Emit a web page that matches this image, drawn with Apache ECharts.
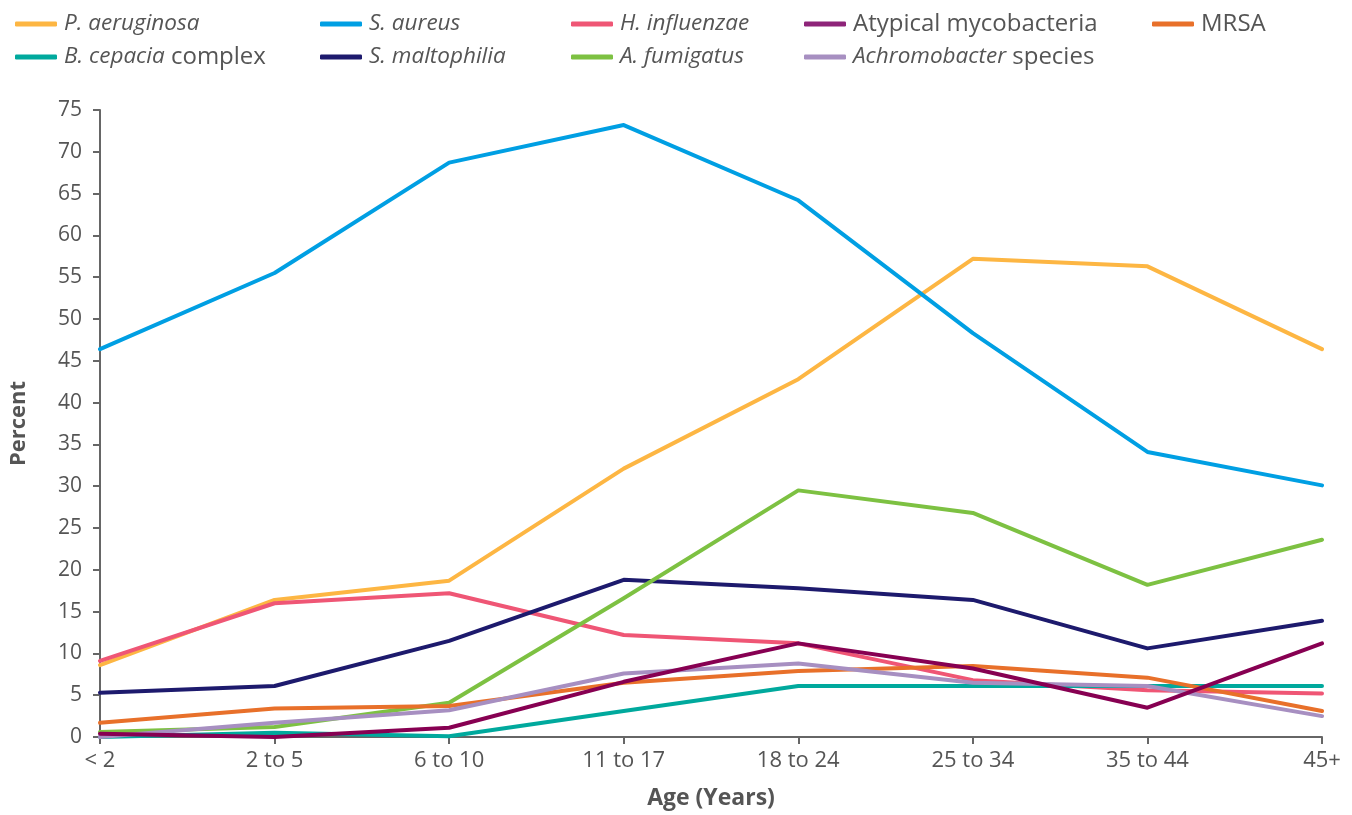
<!DOCTYPE html>
<html>
<head>
<meta charset="utf-8">
<script src="https://cdn.jsdelivr.net/npm/echarts@6/dist/echarts.min.js"></script>
<style>
  html, body { margin: 0; padding: 0; background: #fff; }
  #chart { width: 1352px; height: 815px; }
</style>
</head>
<body>
<div id="chart"></div>
<script>
// age groups on the x axis
var ageGroups = ['< 2', '2 to 5', '6 to 10', '11 to 17', '18 to 24', '25 to 34', '35 to 44', '45+'];

// percent of patients per organism
var pAeruginosa    = [8.6, 16.4, 18.7, 32.1, 42.8, 57.2, 56.3, 46.4];
var sAureus        = [46.4, 55.5, 68.7, 73.2, 64.2, 48.3, 34.1, 30.1];
var hInfluenzae    = [9.1, 16.0, 17.2, 12.2, 11.2, 6.8, 5.6, 5.2];
var atypicalMyco   = [0.4, 0.0, 1.1, 6.6, 11.2, 8.2, 3.5, 11.2];
var mrsa           = [1.7, 3.4, 3.7, 6.5, 7.9, 8.5, 7.1, 3.1];
var bCepacia       = [0.0, 0.5, 0.1, 3.1, 6.1, 6.1, 6.1, 6.1];
var sMaltophilia   = [5.3, 6.1, 11.5, 18.8, 17.8, 16.4, 10.6, 13.9];
var aFumigatus     = [0.6, 1.2, 4.1, 16.6, 29.5, 26.8, 18.2, 23.6];
var achromobacter  = [0.0, 1.7, 3.2, 7.6, 8.8, 6.5, 6.1, 2.5];

// y axis ticks
var yMin = 0, yMax = 75, yStep = 5;

// legend text pieces: [text, italic?]
var legendParts = {
  'P. aeruginosa': [['P. aeruginosa', true]],
  'S. aureus': [['S. aureus', true]],
  'H. influenzae': [['H. influenzae', true]],
  'Atypical mycobacteria': [['Atypical mycobacteria', false]],
  'MRSA': [['MRSA', false]],
  'B. cepacia complex': [['B. cepacia', true], [' complex', false]],
  'S. maltophilia': [['S. maltophilia', true]],
  'A. fumigatus': [['A. fumigatus', true]],
  'Achromobacter species': [['Achromobacter', true], [' species', false]]
};

var textColor = '#555555';
var font = 'Open Sans';

var chart = echarts.init(document.getElementById('chart'));

function fmtLegend(name) {
  var parts = legendParts[name];
  return parts.map(function (p, i) {
    var key = (p[1] ? 'i' : 'n') + (i === 0 ? '0' : '');
    return '{' + key + '|' + p[0] + '}';
  }).join('');
}

var richStyles = {
  i0: { fontStyle: 'italic', fontSize: 22.5, color: textColor, fontFamily: font, padding: [0, 0, 0, 2] },
  n0: { fontStyle: 'normal', fontSize: 24, color: textColor, fontFamily: font, padding: [0, 0, 0, 2] },
  i: { fontStyle: 'italic', fontSize: 22.5, color: textColor, fontFamily: font },
  n: { fontStyle: 'normal', fontSize: 24, color: textColor, fontFamily: font }
};

function makeLegend(left, names) {
  return {
    orient: 'vertical',
    left: left,
    top: 6,
    itemGap: 7,
    itemWidth: 42,
    itemHeight: 5,
    icon: 'roundRect',
    data: names,
    formatter: fmtLegend,
    textStyle: { fontSize: 22, lineHeight: 26, color: textColor, fontFamily: font, rich: richStyles }
  };
}

function line(name, data, color, legendColor) {
  return {
    name: name,
    type: 'line',
    data: data,
    symbol: 'none',
    lineStyle: { width: 4, color: color, cap: 'round', join: 'round' },
    itemStyle: { color: legendColor || color }
  };
}

var option = {
  animation: false,
  legend: [
    makeLegend(10, ['P. aeruginosa', 'B. cepacia complex']),
    makeLegend(315, ['S. aureus', 'S. maltophilia']),
    makeLegend(566, ['H. influenzae', 'A. fumigatus']),
    makeLegend(799, ['Atypical mycobacteria', 'Achromobacter species']),
    makeLegend(1147, ['MRSA'])
  ],
  grid: { left: 99, right: 30, top: 110, bottom: 78 },
  xAxis: {
    type: 'category',
    data: ageGroups,
    boundaryGap: false,
    name: 'Age (Years)',
    nameLocation: 'middle',
    nameGap: 50,
    nameTextStyle: { fontSize: 23, fontWeight: 'bold', color: textColor, fontFamily: font },
    axisLine: { lineStyle: { color: '#666', width: 2 } },
    axisTick: { length: 7, lineStyle: { color: '#666', width: 2 } },
    axisLabel: { fontSize: 22, color: textColor, fontFamily: font, margin: 13 }
  },
  yAxis: {
    type: 'value',
    min: yMin,
    max: yMax,
    interval: yStep,
    name: 'Percent',
    nameLocation: 'middle',
    nameRotate: 90,
    nameGap: 70,
    nameTextStyle: { fontSize: 22, fontWeight: 'bold', color: textColor, fontFamily: font },
    splitLine: { show: false },
    axisLine: { show: true, lineStyle: { color: '#666', width: 2 } },
    axisTick: { show: true, length: 7, lineStyle: { color: '#666', width: 2 } },
    axisLabel: { fontSize: 21, color: textColor, fontFamily: font, margin: 18 }
  },
  series: [
    line('P. aeruginosa', pAeruginosa, '#FDB643'),
    line('S. aureus', sAureus, '#009FE3'),
    line('H. influenzae', hInfluenzae, '#EF5675'),
    line('B. cepacia complex', bCepacia, '#00A99D'),
    line('S. maltophilia', sMaltophilia, '#1D1A6D'),
    line('A. fumigatus', aFumigatus, '#7DC142'),
    line('MRSA', mrsa, '#E8702A'),
    line('Achromobacter species', achromobacter, '#A78FC1'),
    line('Atypical mycobacteria', atypicalMyco, '#870052', '#8E2479')
  ]
};

chart.setOption(option);
</script>
</body>
</html>
